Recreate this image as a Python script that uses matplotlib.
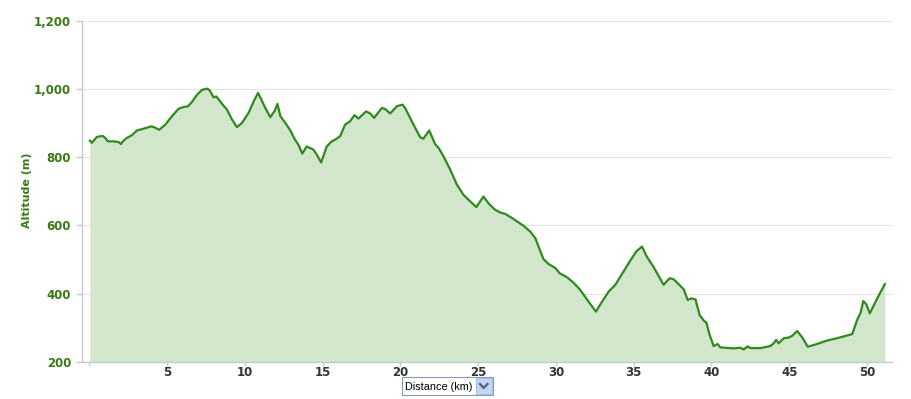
import matplotlib
matplotlib.use("Agg")
import matplotlib.pyplot as plt
from matplotlib.ticker import FuncFormatter, FixedLocator
from matplotlib.patches import Rectangle
from matplotlib.lines import Line2D

plt.rcParams["font.family"] = ["DejaVu Sans"]

# distance along the route (km) and altitude (m)
distance_km = [0.03, 0.16, 0.48, 0.85, 1.02, 1.19, 1.56, 1.88, 2.03, 2.14, 2.41, 2.73,
               3.06, 3.38, 3.70, 3.98, 4.19, 4.49, 4.88, 5.31, 5.74, 6.06, 6.34, 6.60,
               6.92, 7.24, 7.56, 7.73, 7.99, 8.16, 8.53, 8.85, 9.17, 9.49, 9.81, 10.24,
               10.57, 10.84, 10.99, 11.31, 11.63, 11.92, 12.09, 12.28, 12.60, 12.92,
               13.22, 13.44, 13.69, 13.97, 14.40, 14.62, 14.90, 15.26, 15.58, 15.80,
               16.12, 16.44, 16.76, 17.04, 17.30, 17.79, 18.05, 18.31, 18.80, 19.02,
               19.34, 19.77, 20.13, 20.30, 20.84, 21.27, 21.48, 21.85, 22.23, 22.45,
               22.77, 23.20, 23.63, 24.05, 24.48, 24.88, 25.34, 25.70, 26.09, 26.42,
               26.74, 27.17, 27.60, 27.92, 28.35, 28.67, 28.88, 29.20, 29.52, 29.96,
               30.23, 30.71, 31.13, 31.56, 32.10, 32.57, 32.96, 33.39, 33.82, 34.35,
               34.78, 35.17, 35.53, 35.86, 36.24, 36.60, 36.92, 37.31, 37.57, 37.79,
               38.21, 38.47, 38.69, 38.97, 39.24, 39.50, 39.67, 39.88, 40.14, 40.40,
               40.57, 41.10, 41.43, 41.86, 42.07, 42.33, 42.50, 43.15, 43.79, 44.00,
               44.16, 44.32, 44.65, 44.97, 45.19, 45.51, 45.83, 46.19, 46.79, 47.43,
               48.08, 49.05, 49.37, 49.59, 49.76, 49.95, 50.18, 50.66, 51.15]
altitude_m = [849, 843, 860, 863, 857, 847, 847, 845, 839, 847, 857, 865,
              879, 883, 887, 891, 888, 881, 896, 921, 943, 948, 950, 963,
              984, 998, 1002, 997, 976, 979, 957, 940, 911, 889, 901, 931,
              965, 989, 976, 945, 918, 937, 957, 921, 901, 879,
              852, 837, 811, 832, 823, 808, 785, 832, 847, 852,
              862, 896, 906, 924, 914, 935, 929, 916, 945, 942,
              929, 950, 955, 945, 896, 859, 855, 879, 839, 828,
              803, 764, 720, 690, 671, 654, 685, 663, 646, 638,
              634, 622, 609, 599, 582, 563, 538, 501, 487, 475,
              460, 448, 432, 411, 376, 347, 376, 406, 426, 465,
              497, 524, 538, 507, 481, 452, 426, 445, 442, 432,
              413, 381, 386, 383, 337, 321, 315, 279, 246, 252,
              242, 240, 239, 241, 236, 245, 240, 240, 246, 254,
              264, 254, 269, 271, 276, 290, 272, 244, 252, 262,
              269, 281, 323, 344, 378, 369, 342, 386, 428]

y_ticks = [200, 400, 600, 800, 1000, 1200]
x_ticks = [0, 5, 10, 15, 20, 25, 30, 35, 40, 45, 50]

line_color = "#2e8a1c"
fill_color = "#d2e6cb"
label_green = "#3a7a12"
axis_color = "#c3cad6"

fig = plt.figure(figsize=(9.11, 3.99), dpi=100)
ax = fig.add_axes([0.0903, 0.0935, 0.8887, 0.8535])

ax.fill_between(distance_km, 200, altitude_m, color=fill_color, linewidth=0, zorder=1)
ax.plot(distance_km, altitude_m, color=line_color, linewidth=1.6, zorder=3)

ax.set_xlim(-0.46, 51.6)
ax.set_ylim(200, 1200)

ax.yaxis.set_major_locator(FixedLocator(y_ticks))
ax.xaxis.set_major_locator(FixedLocator(x_ticks))
ax.yaxis.set_major_formatter(FuncFormatter(lambda v, p: f"{int(v):,}"))
ax.xaxis.set_major_formatter(FuncFormatter(lambda v, p: "" if v == 0 else f"{int(v)}"))

ax.grid(axis="y", color="#e3e3e3", linewidth=0.8, zorder=0)
ax.set_axisbelow(True)

for side in ["top", "right"]:
    ax.spines[side].set_visible(False)
for side in ["left", "bottom"]:
    ax.spines[side].set_color(axis_color)
    ax.spines[side].set_linewidth(1.0)

ax.tick_params(axis="y", length=4, width=1, color=axis_color, pad=4,
               labelsize=8.5, labelcolor=label_green)
ax.tick_params(axis="x", length=3, width=1, color=axis_color, pad=0,
               labelsize=8.5, labelcolor="#333333")
for lbl in ax.get_yticklabels() + ax.get_xticklabels():
    lbl.set_fontweight("bold")

fig.text(27 / 911, 1 - 190 / 399, "Altitude (m)", rotation=90, ha="center", va="center",
         color=label_green, fontsize=8, fontweight="bold")

# "Distance (km)" drop-down box under the x axis
fig.patches.append(Rectangle((402 / 911, 1 - 395 / 399), 91 / 911, 18 / 399,
                             transform=fig.transFigure, facecolor="white",
                             edgecolor="#7f9db9", linewidth=0.8))
fig.text(438.5 / 911, 1 - 386.5 / 399, "Distance (km)", ha="center", va="center",
         fontsize=7.8, color="black", family="Liberation Sans")
fig.patches.append(Rectangle((476 / 911, 1 - 393.5 / 399), 15.5 / 911, 15.5 / 399,
                             transform=fig.transFigure, facecolor="#c5d5f5",
                             edgecolor="#a6bde8", linewidth=0.8))
fig.lines.append(Line2D([480 / 911, 483.7 / 911, 487.5 / 911],
                        [1 - 384 / 399, 1 - 388 / 399, 1 - 384 / 399],
                        transform=fig.transFigure, color="#4d6185", linewidth=1.6))

fig.savefig("out.png", dpi=100)
